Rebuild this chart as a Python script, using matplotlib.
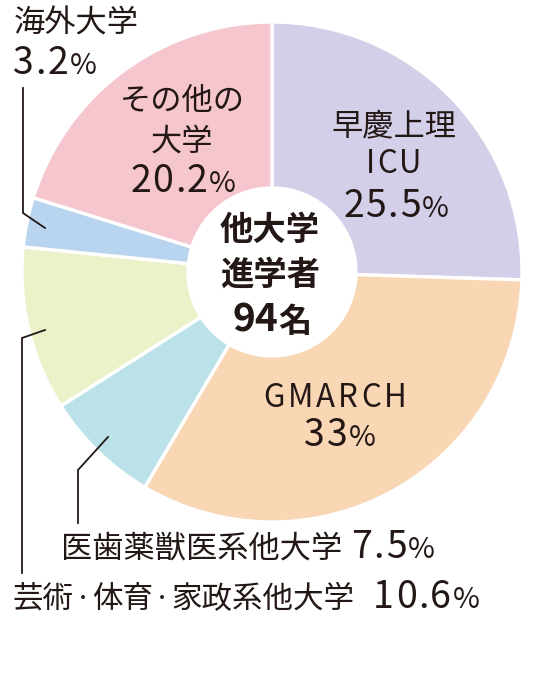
import matplotlib
matplotlib.use("Agg")
import matplotlib.pyplot as plt

plt.rcParams['font.family'] = ['Noto Sans CJK JP', 'DejaVu Sans']

# ---- data ----
categories = ["早慶上理ICU", "GMARCH", "医歯薬獣医系他大学", "芸術・体育・家政系他大学", "海外大学", "その他の大学"]
values = [25.5, 33.0, 7.5, 10.6, 3.2, 20.2]
colors = ["#d3cfe8", "#f9d6b4", "#bbe2e8", "#ebf1c8", "#b9d4ee", "#f6c6cf"]
center_lines = ["他大学", "進学者", "94名"]

W, H = 536, 699
fig = plt.figure(figsize=(W / 100, H / 100), dpi=100)
ax = fig.add_axes([0, 0, 1, 1])

TXT = "#231815"
CX, CY, R, RIN = 272, 272, 250, 84


def Y(y):
    return H - y


ax.pie(values, colors=colors, startangle=90, counterclock=False,
       center=(CX, Y(CY)), radius=R, frame=True,
       wedgeprops=dict(width=R - RIN, edgecolor='white', linewidth=2.4))
ax.set_xlim(0, W)
ax.set_ylim(0, H)
ax.set_aspect('equal')
ax.axis('off')

fig.canvas.draw()
renderer = fig.canvas.get_renderer()


def twidth(s, size, weight):
    t = ax.text(0, 0, s, fontsize=size, fontweight=weight)
    w = t.get_window_extent(renderer).width
    t.remove()
    return w


def rich(x, y, parts, ha='center', weight='normal'):
    """parts: (string, size[, tracking_px[, dy]]) or a number = gap in px."""
    placed = []   # (str, size, xoff, dy)
    cur = 0.0
    for p in parts:
        if isinstance(p, (int, float)):
            cur += p
            continue
        s, size = p[0], p[1]
        track = p[2] if len(p) > 2 else 0
        dy = p[3] if len(p) > 3 else 0
        if track == 0:
            placed.append((s, size, cur, dy))
            cur += twidth(s, size, weight)
        else:
            for i, ch in enumerate(s):
                off = twidth(s[:i], size, weight) if i > 0 else 0
                placed.append((ch, size, cur + off + i * track, dy))
            cur += twidth(s, size, weight) + (len(s) - 1) * track
    start = x if ha == 'left' else x - cur / 2
    for s, size, xo, dy in placed:
        ax.text(start + xo, Y(y + dy), s, fontsize=size, ha='left', va='baseline',
                color=TXT, fontweight=weight)


KS = 22.5   # kanji size
DS = 27     # digit size
DT = 1.5    # digit tracking
PS = 21     # percent size
DOT = 13    # middle dot size


def pct(v):
    return [(f"{v:g}", DS, DT), 1.5, ("%", PS)]


# 早慶上理 ICU 25.5%
rich(394, 135, [("早慶上理", KS)])
rich(394, 173, [("ICU", KS, 2)])
rich(396, 217, pct(values[0]))

# GMARCH 33%
rich(335, 407, [("GMARCH", KS, 3)])
rich(340, 446, pct(values[1]))

# その他の大学 20.2%
rich(182, 110, [("その他の", KS)])
rich(182, 151, [("大学", KS)])
rich(183, 192, pct(values[5]))

# 海外大学 3.2%
rich(14, 33, [("海外大学", KS)], ha='left')
rich(13, 74, pct(values[4]), ha='left')

# 医歯薬獣医系他大学 7.5%
rich(61, 558, [("医歯薬獣医系他大学", KS), 9] + pct(values[2]), ha='left')

# 芸術・体育・家政系他大学 10.6%
rich(13, 608, [("芸術", 22), ("・", DOT, 0, -4), ("体育", 22), ("・", DOT, 0, -4),
               ("家政系他大学", 22), 19] + pct(values[3]), ha='left')

# center
rich(270, 240, [(center_lines[0], 24)], weight='bold')
rich(270, 285, [(center_lines[1], 24)], weight='bold')
rich(272, 332, [(center_lines[2][:2], 28), (center_lines[2][2:], 24)], weight='bold')

# leader lines
lw = 1.3
ax.plot([45, 23, 23], [Y(228), Y(213), Y(88)], color=TXT, lw=lw, solid_joinstyle='miter')
ax.plot([108, 78, 78], [Y(437), Y(470), Y(523)], color=TXT, lw=lw, solid_joinstyle='miter')
ax.plot([45, 22, 22], [Y(330), Y(338), Y(573)], color=TXT, lw=lw, solid_joinstyle='miter')

fig.savefig("out.png", dpi=100, facecolor='white')
